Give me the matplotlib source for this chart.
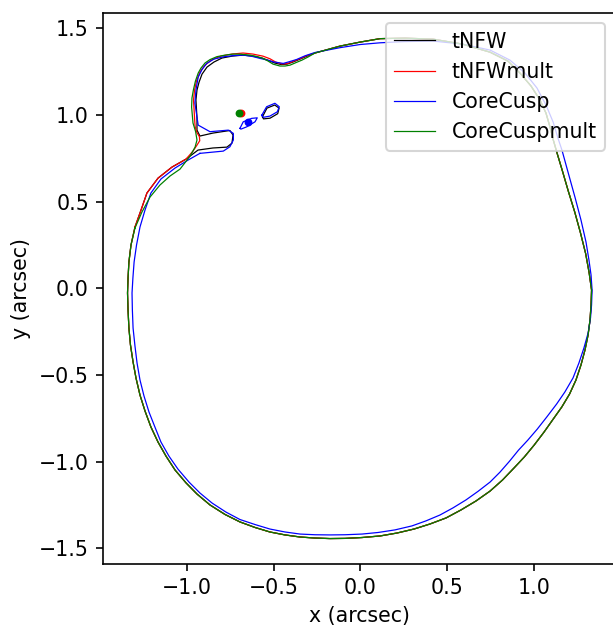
import matplotlib
matplotlib.use("Agg")
import matplotlib.pyplot as plt

# critical curves (arcsec)

# outer arc shared by tNFW, tNFWmult and CoreCuspmult (top -> right -> bottom -> left)
arc_x = [-0.263, -0.118, -0.003, 0.113, 0.257, 0.419, 0.586, 0.748, 0.852, 0.921,
         0.985, 1.036, 1.071, 1.094, 1.112, 1.135, 1.165, 1.200, 1.237, 1.270,
         1.300, 1.320, 1.334, 1.331, 1.325, 1.314, 1.296, 1.273, 1.244, 1.207,
         1.162, 1.113, 1.060, 1.003, 0.946, 0.886, 0.820, 0.748, 0.667, 0.580,
         0.494, 0.401, 0.309, 0.211, 0.113, 0.009, -0.089, -0.176, -0.263, -0.349,
         -0.436, -0.523, -0.609, -0.696, -0.782, -0.869, -0.944, -1.007, -1.071, -1.123,
         -1.169, -1.210, -1.244, -1.273, -1.296, -1.313, -1.328, -1.337, -1.342, -1.345,
         -1.342, -1.337, -1.325]
arc_y = [1.358, 1.398, 1.421, 1.441, 1.444, 1.438, 1.410, 1.363, 1.311, 1.242,
         1.167, 1.087, 1.011, 0.931, 0.860, 0.780, 0.680, 0.560, 0.440, 0.320,
         0.200, 0.090, -0.010, -0.096, -0.183, -0.269, -0.356, -0.442, -0.529, -0.610,
         -0.685, -0.754, -0.829, -0.904, -0.973, -1.037, -1.106, -1.170, -1.227, -1.279,
         -1.325, -1.360, -1.389, -1.412, -1.429, -1.438, -1.443, -1.444, -1.441, -1.435,
         -1.423, -1.406, -1.380, -1.348, -1.305, -1.250, -1.187, -1.123, -1.048, -0.968,
         -0.887, -0.800, -0.708, -0.616, -0.518, -0.425, -0.327, -0.229, -0.125, -0.027,
         0.059, 0.152, 0.250]

# tNFW: upper-left part with the pocket and the lobe
tnfw_x = [-1.302, -1.267, -1.233, -1.169, -1.088, -1.007, -0.938, -0.852, -0.771, -0.742,
          -0.736, -0.754, -0.852, -0.927, -0.944, -0.944, -0.950, -0.944, -0.932, -0.915,
          -0.886, -0.846, -0.800, -0.742, -0.678, -0.621, -0.569, -0.528, -0.494, -0.459,
          -0.424, -0.390, -0.349, -0.309]
tnfw_y = [0.354, 0.452, 0.550, 0.636, 0.700, 0.746, 0.798, 0.810, 0.815, 0.838,
          0.885, 0.911, 0.896, 0.879, 0.913, 0.983, 1.087, 1.144, 1.190, 1.236,
          1.277, 1.306, 1.329, 1.340, 1.346, 1.340, 1.329, 1.314, 1.300, 1.292,
          1.294, 1.306, 1.323, 1.340]
tnfw_small_x = [-0.566, -0.540, -0.495, -0.470, -0.478, -0.522, -0.560, -0.566]
tnfw_small_y = [0.990, 1.040, 1.058, 1.040, 1.008, 0.982, 0.978, 0.990]

# tNFWmult
tnfwm_x = [-1.302, -1.267, -1.233, -1.169, -1.088, -1.007, -0.967, -0.945, -0.928, -0.930,
           -0.945, -0.955, -0.958, -0.964, -0.958, -0.947, -0.927, -0.898, -0.857, -0.806,
           -0.742, -0.678, -0.621, -0.563, -0.523, -0.490, -0.454, -0.424, -0.390, -0.349,
           -0.309]
tnfwm_y = [0.354, 0.452, 0.550, 0.636, 0.700, 0.746, 0.792, 0.825, 0.852, 0.875,
           0.900, 0.935, 0.983, 1.087, 1.144, 1.196, 1.248, 1.288, 1.320, 1.340,
           1.352, 1.358, 1.352, 1.340, 1.325, 1.306, 1.295, 1.297, 1.309, 1.326,
           1.343]

# CoreCuspmult
ccm_x = [-1.302, -1.262, -1.215, -1.158, -1.100, -1.042, -0.984, -0.955, -0.944, -0.952,
         -0.967, -0.975, -0.973, -0.965, -0.953, -0.937, -0.921, -0.898, -0.869, -0.829,
         -0.782, -0.736, -0.690, -0.638, -0.598, -0.563, -0.534, -0.505, -0.465, -0.436,
         -0.407, -0.372, -0.338, -0.303]
ccm_y = [0.348, 0.440, 0.527, 0.596, 0.648, 0.688, 0.763, 0.815, 0.856, 0.905,
         0.954, 1.046, 1.098, 1.144, 1.196, 1.242, 1.271, 1.300, 1.320, 1.337,
         1.346, 1.352, 1.351, 1.346, 1.338, 1.327, 1.312, 1.294, 1.283, 1.283,
         1.288, 1.303, 1.317, 1.335]

# CoreCusp: its own outer arc, then pocket and lobe
cc_arc_x = [-0.263, -0.118, -0.003, 0.113, 0.257, 0.419, 0.586, 0.748, 0.863, 0.950,
            1.019, 1.071, 1.112, 1.140, 1.163, 1.198, 1.238, 1.273, 1.302, 1.319,
            1.331, 1.337, 1.334, 1.328, 1.314, 1.290, 1.261, 1.227, 1.180, 1.132,
            1.075, 1.020, 0.965, 0.912, 0.860, 0.805, 0.748, 0.678, 0.609, 0.534,
            0.459, 0.378, 0.297, 0.199, 0.101, 0.009, -0.089, -0.176, -0.263, -0.349,
            -0.436, -0.523, -0.609, -0.696, -0.777, -0.857, -0.927, -0.990, -1.054, -1.106,
            -1.152, -1.187, -1.221, -1.250, -1.273, -1.290, -1.302, -1.313, -1.317, -1.319,
            -1.314, -1.307, -1.293, -1.273, -1.244, -1.210, -1.152, -1.071, -0.996]
cc_arc_y = [1.361, 1.389, 1.407, 1.417, 1.424, 1.427, 1.410, 1.375, 1.317, 1.242,
            1.156, 1.058, 0.960, 0.867, 0.798, 0.671, 0.527, 0.394, 0.267, 0.163,
            0.077, -0.010, -0.096, -0.171, -0.258, -0.344, -0.431, -0.517, -0.598, -0.668,
            -0.743, -0.813, -0.877, -0.934, -0.998, -1.061, -1.118, -1.172, -1.221, -1.267,
            -1.308, -1.342, -1.371, -1.394, -1.409, -1.418, -1.422, -1.423, -1.422, -1.418,
            -1.406, -1.389, -1.363, -1.334, -1.291, -1.239, -1.181, -1.118, -1.043, -0.968,
            -0.887, -0.800, -0.714, -0.621, -0.529, -0.431, -0.333, -0.229, -0.125, -0.027,
            0.059, 0.152, 0.250, 0.354, 0.452, 0.550, 0.631, 0.694, 0.740]
cc_x = [-0.927, -0.792, -0.754, -0.734, -0.734, -0.763, -0.869, -0.937, -0.956, -0.950,
        -0.937, -0.915, -0.888, -0.846, -0.792, -0.736, -0.677, -0.627, -0.580, -0.540,
        -0.503, -0.446, -0.407, -0.368, -0.320]
cc_y = [0.779, 0.792, 0.817, 0.856, 0.894, 0.913, 0.904, 0.942, 1.069, 1.144,
        1.219, 1.263, 1.298, 1.323, 1.336, 1.343, 1.346, 1.339, 1.327, 1.318,
        1.307, 1.298, 1.309, 1.321, 1.342]
cc_small1_x = [-0.570, -0.542, -0.494, -0.469, -0.480, -0.523, -0.561, -0.570]
cc_small1_y = [0.999, 1.048, 1.068, 1.048, 1.019, 0.994, 0.987, 0.999]
cc_small2_x = [-0.696, -0.677, -0.628, -0.596, -0.609, -0.657, -0.690, -0.696]
cc_small2_y = [0.923, 0.961, 0.981, 0.984, 0.961, 0.932, 0.919, 0.923]

# tiny radial curves (show up as dots)
dot_x = {"tNFWmult": -0.690, "CoreCusp": -0.651, "CoreCuspmult": -0.700}
dot_y = {"tNFWmult": 1.013, "CoreCusp": 0.958, "CoreCuspmult": 1.013}


def closed(part_x, part_y, ax_, ay_):
    # join the model's own piece with the outer arc into one closed loop
    xs = part_x + ax_ + part_x[:1]
    ys = part_y + ay_ + part_y[:1]
    return xs, ys


DPI = 148
fig = plt.figure(figsize=(614 / DPI, 625 / DPI), dpi=DPI)
ax = fig.add_axes([0.1682, 0.0981, 0.8339, 0.8811])

lw = 0.6
xs, ys = closed(tnfw_x, tnfw_y, arc_x, arc_y)
ax.plot(xs, ys, color='k', lw=lw, label='tNFW')
ax.plot(tnfw_small_x, tnfw_small_y, color='k', lw=lw)

xs, ys = closed(tnfwm_x, tnfwm_y, arc_x, arc_y)
ax.plot(xs, ys, color='r', lw=lw, label='tNFWmult')
ax.plot(dot_x["tNFWmult"], dot_y["tNFWmult"], 'o', color='r', ms=2.8)

xs, ys = closed(cc_x, cc_y, cc_arc_x, cc_arc_y)
ax.plot(xs, ys, color='b', lw=lw, label='CoreCusp')
ax.plot(cc_small1_x, cc_small1_y, color='b', lw=lw)
ax.plot(cc_small2_x, cc_small2_y, color='b', lw=lw)
ax.plot(dot_x["CoreCusp"], dot_y["CoreCusp"], 'o', color='b', ms=2.8)

xs, ys = closed(ccm_x, ccm_y, arc_x, arc_y)
ax.plot(xs, ys, color='g', lw=lw, label='CoreCuspmult')
ax.plot(dot_x["CoreCuspmult"], dot_y["CoreCuspmult"], 'o', color='g', ms=2.8)

ax.set_xlim(-1.485, 1.471)
ax.set_ylim(-1.589, 1.589)
ax.set_xticks([-1.0, -0.5, 0.0, 0.5, 1.0])
ax.set_xlabel('x (arcsec)')
ax.set_ylabel('y (arcsec)')
ax.legend(loc='upper right')

fig.savefig('out.png', dpi=DPI)
